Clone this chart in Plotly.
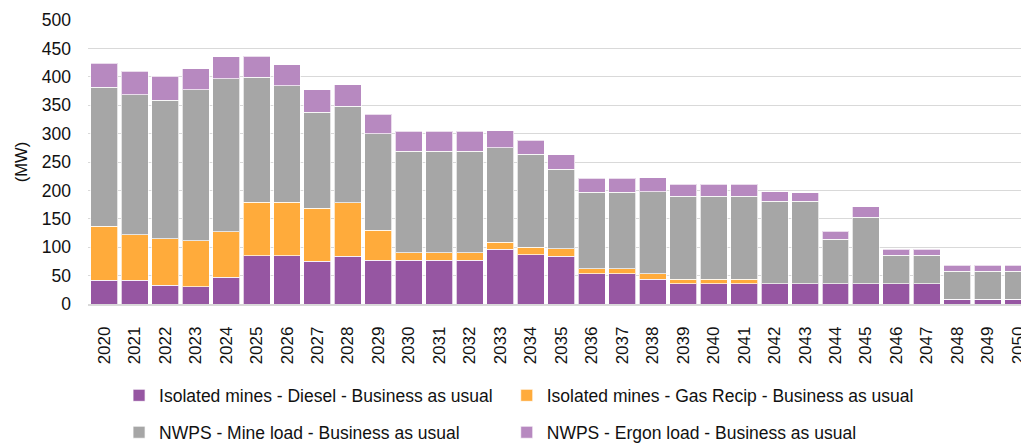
import plotly.graph_objects as go

# Tahun (kategori sumbu x)
years = [str(y) for y in range(2020, 2051)]

# Nilai tiap seri (MW)
diesel = [42, 42, 33, 30, 47, 85, 85, 75, 84, 77,
          77, 77, 77, 96, 87, 84, 53, 53, 44, 36,
          36, 36, 36, 36, 36, 36, 36, 36, 8, 8, 8]
gas_recip = [95, 80, 82, 81, 80, 94, 94, 94, 94, 53,
             13, 13, 13, 13, 13, 13, 9, 9, 9, 8,
             8, 8, 0, 0, 0, 0, 0, 0, 0, 0, 0]
mine_load = [245, 246, 244, 266, 270, 220, 205, 169, 170, 170,
             179, 179, 179, 166, 164, 140, 135, 135, 145, 146,
             146, 146, 145, 145, 78, 117, 50, 50, 50, 50, 50]
ergon_load = [42, 42, 42, 37, 38, 37, 37, 39, 38, 34,
              35, 35, 35, 30, 24, 26, 24, 24, 24, 21,
              21, 21, 17, 15, 14, 18, 10, 10, 10, 10, 10]

series = [
    ('Isolated mines - Diesel - Business as usual', diesel, '#9656A2', 'legend'),
    ('Isolated mines - Gas Recip - Business as usual', gas_recip, '#FFAB3B', 'legend2'),
    ('NWPS - Mine load - Business as usual', mine_load, '#A6A6A6', 'legend3'),
    ('NWPS - Ergon load - Business as usual', ergon_load, '#B789C0', 'legend4'),
]

fig = go.Figure()
for name, vals, col, leg in series:
    fig.add_trace(go.Bar(
        x=years, y=vals, name=name, legend=leg, showlegend=True,
        marker=dict(color=col, line=dict(color='rgba(255,255,255,0.7)', width=1)),
    ))

font_name = 'Liberation Sans, Arial, sans-serif'

# satu legenda per entri (2 kolom x 2 baris) supaya posisinya bisa diatur
leg_common = dict(
    orientation='h',
    xanchor='left',
    yanchor='middle',
    font=dict(size=17.5, color='#111111'),
    bgcolor='rgba(0,0,0,0)',
)
col1, col2 = 0.033, 0.445
row1, row2 = -0.322, -0.452

# halaman punya margin body 8px, jadi ukuran figur dikurangi 8px
fig.update_layout(
    barmode='stack',
    bargap=0.115,
    showlegend=True,
    width=1021, height=435,
    margin=dict(l=80, r=0, t=12, b=139, autoexpand=False),
    plot_bgcolor='white',
    paper_bgcolor='white',
    font=dict(family=font_name, size=17, color='#111111'),
    xaxis=dict(
        type='category',
        range=[-0.53, 30.35],
        tickangle=-90,
        tickfont=dict(size=17),
        ticklabelstandoff=14,
        showgrid=False,
        showline=True, linecolor='#d9d9d9', linewidth=1.5,
        ticks='',
        automargin=False,
    ),
    yaxis=dict(
        range=[0, 500],
        dtick=50,
        gridcolor='#d9d9d9', gridwidth=1,
        zeroline=False,
        ticks='',
        tickfont=dict(size=17.5),
        ticklabelstandoff=16,
        automargin=False,
        title=dict(text='(MW)', font=dict(size=16.5), standoff=10),
    ),
    legend=dict(leg_common, x=col1, y=row1),
    legend2=dict(leg_common, x=col2, y=row1),
    legend3=dict(leg_common, x=col1, y=row2),
    legend4=dict(leg_common, x=col2, y=row2),
)

fig.write_html('out.html')
